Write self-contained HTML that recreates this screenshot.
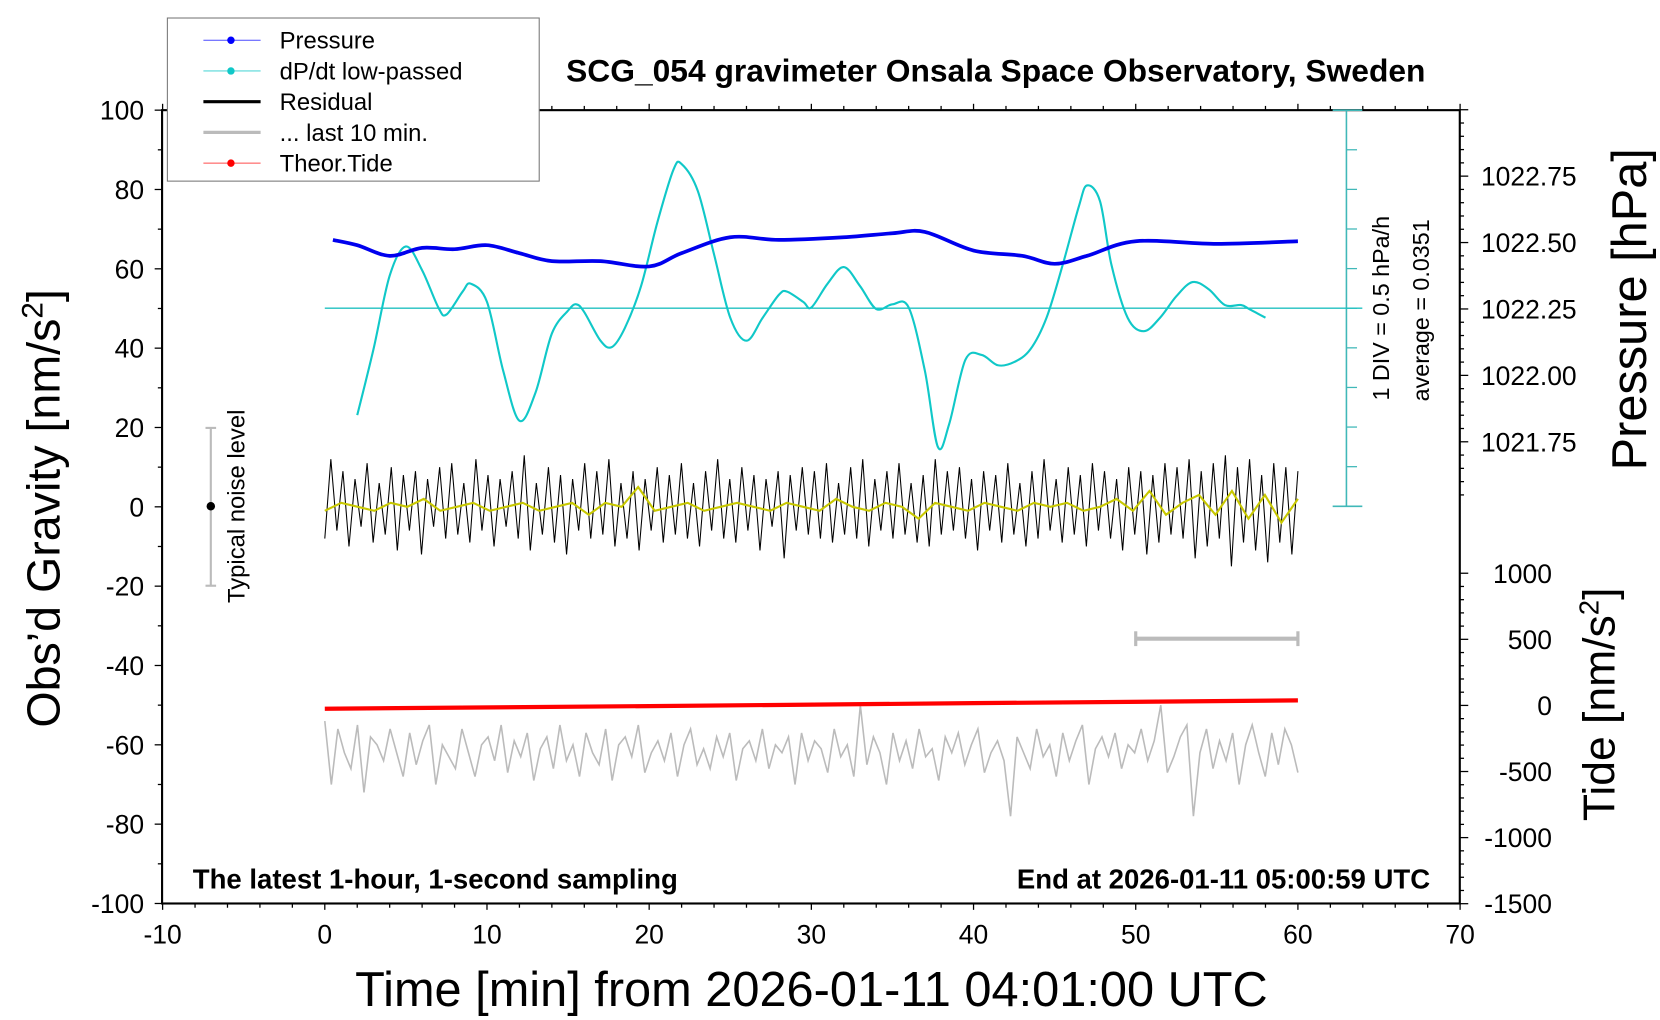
<!DOCTYPE html>
<html><head><meta charset="utf-8"><style>
html,body{margin:0;padding:0;background:#fff}
svg{display:block;font-family:"Liberation Sans",sans-serif}
</style></head><body>
<svg id="chart" width="1660" height="1020" viewBox="0 0 1567 963" preserveAspectRatio="none" xmlns="http://www.w3.org/2000/svg">
<g id="layer"></g>
</svg>
<script>
// ---- data ----
const pressTimes = [0.5,2,4,6,8,10,12,14,17,20,22,25,28,32,35,37,40,43,45,47,50,55,60];
const pressVals = [1022.51,1022.49,1022.45,1022.48,1022.475,1022.49,1022.46,1022.43,1022.43,1022.41,1022.46,1022.52,1022.51,1022.52,1022.535,1022.54,1022.47,1022.45,1022.42,1022.45,1022.505,1022.495,1022.505];
const dpTimes = [2,3,4,5,6,7,7.5,8.5,9,10,11,12,13,14,15,15.5,16,17,17.7,18.5,19.5,20.5,21.5,22,23,24,25,26,27,28,28.5,29.5,30,31,32,33,34,35,36,37,37.8,38.5,39.5,40.5,41.5,42.5,43.5,44.5,45.5,46.5,47,47.8,48.5,49.5,50.5,51.5,52.5,53.5,54.5,55.5,56.5,57,58];
const dpVals = [-1.35,-0.52,0.41,0.78,0.48,0.01,-0.08,0.21,0.31,0.08,-0.79,-1.42,-1.06,-0.32,-0.03,0.05,-0.05,-0.41,-0.49,-0.25,0.28,1.08,1.75,1.82,1.48,0.68,-0.12,-0.41,-0.12,0.17,0.21,0.08,0.01,0.31,0.52,0.28,-0.01,0.05,0.01,-0.79,-1.75,-1.46,-0.65,-0.59,-0.72,-0.68,-0.52,-0.12,0.55,1.29,1.55,1.35,0.55,-0.12,-0.29,-0.12,0.15,0.33,0.24,0.04,0.04,-0.01,-0.12];
const residVals = [-8,12,-6,9,-10,7,-5,11,-9,6,-7,10,-11,8,-6,9,-12,7,-5,10,-8,11,-7,6,-9,12,-6,8,-10,7,-5,9,-8,13,-11,6,-7,10,-9,8,-12,7,-6,11,-8,9,-7,12,-10,6,-8,9,-11,7,-6,10,-9,8,-7,11,-8,6,-10,9,-6,12,-8,7,-9,10,-6,8,-11,7,-5,9,-13,8,-6,10,-7,9,-8,11,-9,6,-7,10,-8,12,-10,7,-6,9,-8,11,-7,6,-9,8,-10,12,-7,9,-6,10,-8,7,-11,9,-6,8,-9,11,-7,6,-10,9,-8,12,-6,7,-9,10,-7,8,-10,11,-6,9,-8,7,-11,10,-7,9,-12,8,-9,11,-7,10,-8,12,-13,9,-10,11,-8,13,-15,10,-9,12,-11,8,-14,11,-9,10,-12,9];
const yellowVals = [-1,1,0,-1,1,0,2,-1,0,1,-1,0,1,-1,0,1,-2,1,0,5,-1,0,1,-1,0,1,0,-1,1,0,-1,2,0,-1,1,0,-3,1,0,-1,1,0,-1,1,0,1,-1,0,2,-1,4,-2,1,3,-2,4,-3,3,-4,2];
const tideTimes = [0,20,40,60];
const tideVals = [-25,-5,17,38];
const greyVals = [-54,-70,-56,-62,-66,-55,-72,-58,-60,-64,-56,-62,-68,-57,-65,-59,-55,-70,-60,-63,-66,-56,-62,-68,-60,-58,-64,-55,-67,-59,-63,-57,-69,-61,-58,-66,-55,-64,-60,-68,-57,-62,-65,-56,-69,-60,-58,-63,-55,-67,-62,-59,-64,-57,-68,-60,-56,-65,-61,-66,-58,-63,-57,-69,-61,-59,-64,-56,-66,-60,-62,-58,-70,-57,-64,-59,-61,-67,-56,-63,-60,-68,-50,-65,-58,-62,-70,-57,-64,-59,-66,-56,-63,-61,-69,-58,-62,-57,-65,-60,-56,-67,-62,-59,-64,-78,-58,-62,-66,-56,-63,-60,-68,-57,-64,-59,-55,-70,-61,-58,-63,-57,-66,-60,-62,-56,-64,-59,-50,-67,-63,-58,-55,-78,-62,-56,-66,-59,-64,-57,-70,-60,-55,-62,-68,-57,-65,-56,-60,-67];
const xTicks = [-10,0,10,20,30,40,50,60,70];
const yTicks = [100,80,60,40,20,0,-20,-40,-60,-80,-100];
const pTicks = ["1022.75","1022.50","1022.25","1022.00","1021.75"];
const tTicks = [1000,500,0,-500,-1000,-1500];

// ---- axes ----
const X = t => 306.6 + t*15.31;
const YL = v => 478.5 - v*3.745;
const YP = p => 229 - (p-1022.5)*250.8;
const YT = v => 666 - v*0.1248;
const YD = d => 291 - d*74.8;
const L = 153, R = 1378, T = 104, B = 853;

const NS = "http://www.w3.org/2000/svg";
const layer = document.getElementById('layer');
function mk(tag, attrs, parent){ const e = document.createElementNS(NS, tag); for (const k in attrs) e.setAttribute(k, attrs[k]); (parent||layer).appendChild(e); return e; }
function txt(s, x, y, attrs){ const e = mk('text', Object.assign({x:x,y:y}, attrs)); e.textContent = s; return e; }
function smooth(pts){ let d = 'M'+pts[0][0]+','+pts[0][1]; for(let i=0;i<pts.length-1;i++){ const p0=pts[Math.max(0,i-1)],p1=pts[i],p2=pts[i+1],p3=pts[Math.min(pts.length-1,i+2)]; d+=' C'+(p1[0]+(p2[0]-p0[0])/6)+','+(p1[1]+(p2[1]-p0[1])/6)+' '+(p2[0]-(p3[0]-p1[0])/6)+','+(p2[1]-(p3[1]-p1[1])/6)+' '+p2[0]+','+p2[1]; } return d; }

// frame
let f = mk('rect',{x:L,y:T,width:R-L,height:B-T,fill:'none',stroke:'#000','stroke-width':2});



// x ticks
for (let t=-10;t<=70;t+=2){ const maj = t%10===0; mk('line',{x1:X(t),x2:X(t),y1:B,y2:B+(maj?6:4),stroke:'#000','stroke-width':1.2}); mk('line',{x1:X(t),x2:X(t),y1:T,y2:T-(maj?6:4),stroke:'#000','stroke-width':1.2}); }
xTicks.forEach(t=>{ const e=txt(String(t),X(t),891,{'font-size':25,'text-anchor':'middle'});
 
  });
// left y ticks
for (let v=-100;v<=100;v+=10){ const maj=v%20===0; mk('line',{x1:L,x2:L-(maj?7:4),y1:YL(v),y2:YL(v),stroke:'#000','stroke-width':1.2}); }
yTicks.forEach(v=>{ const e=txt(String(v),136,YL(v)+9,{'font-size':25,'text-anchor':'end'});
 
  });
// right pressure ticks
for (let i=-30;i<=30;i++){ const p=1022.5+i*0.05; const y=YP(p); if(y<T-1||y>478) continue; const maj=i%5===0; mk('line',{x1:R,x2:R+(maj?8:4),y1:y,y2:y,stroke:'#000','stroke-width':1.2}); }
pTicks.forEach(s=>{ const e=txt(s,1398,YP(parseFloat(s))+9,{'font-size':25});
 
  });
// tide ticks
for (let v=-1500;v<=1000;v+=100){ const maj=v%500===0; mk('line',{x1:R,x2:R+(maj?8:4),y1:YT(v),y2:YT(v),stroke:'#000','stroke-width':1.2}); }
tTicks.forEach(v=>{ const e=txt(String(v),1465,YT(v)+9,{'font-size':25,'text-anchor':'end'});
 
  });

// dP/dt scale
const cy='#40b8b8';
mk('line',{x1:1271,x2:1271,y1:T,y2:478,stroke:cy,'stroke-width':1.5});
for(let k=-5;k<=5;k++){ mk('line',{x1:1271,x2:1281,y1:291+k*37.4,y2:291+k*37.4,stroke:cy,'stroke-width':1.2}); }
mk('line',{x1:1258,x2:1286,y1:478,y2:478,stroke:cy,'stroke-width':1.5});
mk('line',{x1:1258,x2:1286,y1:T,y2:T,stroke:cy,'stroke-width':1.5});
mk('line',{x1:X(0),x2:1286,y1:YD(0),y2:YD(0),stroke:'#20c0c0','stroke-width':1.3});

// grey bottom trace
let gp = greyVals.map((v,i)=>[X(i*60/(greyVals.length-1)),YL(v)]);
let g = mk('polyline',{points:gp.map(p=>p.join(',')).join(' '),fill:'none',stroke:'#bbb','stroke-width':1.5});



// tide
let tp = tideTimes.map((t,i)=>[X(t),YT(tideVals[i])]);
let td = mk('polyline',{points:tp.map(p=>p.join(',')).join(' '),fill:'none',stroke:'#f00','stroke-width':4});



// residual
let rp = residVals.map((v,i)=>[X(i*60/(residVals.length-1)),YL(v)]);
let rs = mk('polyline',{points:rp.map(p=>p.join(',')).join(' '),fill:'none',stroke:'#000','stroke-width':1});


let yp = yellowVals.map((v,i)=>[X(i*60/(yellowVals.length-1)),YL(v)]);
let yl = mk('polyline',{points:yp.map(p=>p.join(',')).join(' '),fill:'none',stroke:'#c8c800','stroke-width':2});



// dP/dt
let dp = dpTimes.map((t,i)=>[X(t),YD(dpVals[i])]);
let dl = mk('path',{d:smooth(dp),fill:'none',stroke:'#10c8c8','stroke-width':2});



// pressure
let pp = pressTimes.map((t,i)=>[X(t),YP(pressVals[i])]);
let pl = mk('path',{d:smooth(pp),fill:'none',stroke:'#0000ee','stroke-width':3.5});



// noise level bar
mk('line',{x1:199,x2:199,y1:404,y2:553,stroke:'#bbb','stroke-width':2});
mk('line',{x1:194,x2:204,y1:404,y2:404,stroke:'#bbb','stroke-width':2});
mk('line',{x1:194,x2:204,y1:553,y2:553,stroke:'#bbb','stroke-width':2});
mk('circle',{cx:199,cy:478,r:4,fill:'#000'});
let nt = txt('Typical noise level',0,0,{'font-size':22.5,'text-anchor':'middle',transform:'translate(231,478) rotate(-90)'});



// last 10 min bar
mk('line',{x1:X(50),x2:X(60),y1:603,y2:603,stroke:'#bbb','stroke-width':4});
mk('line',{x1:X(50),x2:X(50),y1:596,y2:610,stroke:'#bbb','stroke-width':3});
mk('line',{x1:X(60),x2:X(60),y1:596,y2:610,stroke:'#bbb','stroke-width':3});

// texts
let e;
e=txt('SCG_054 gravimeter Onsala Space Observatory, Sweden',940,77,{'font-size':30,'font-weight':'bold','text-anchor':'middle'});


e=txt('The latest 1-hour, 1-second sampling',182,839,{'font-size':26,'font-weight':'bold'});


e=txt('End at 2026-01-11 05:00:59 UTC',1350,839,{'font-size':26,'font-weight':'bold','text-anchor':'end'});


e=txt('1 DIV = 0.5 hPa/h',0,0,{'font-size':22,'text-anchor':'middle',transform:'translate(1311,291) rotate(-90)'});


e=txt('average = 0.0351',0,0,{'font-size':22,'text-anchor':'middle',transform:'translate(1349,293) rotate(-90)'});


e=txt('Time [min] from 2026-01-11 04:01:00 UTC',766,950,{'font-size':46,'text-anchor':'middle'});


e=mk('text',{x:0,y:0,'font-size':44,'text-anchor':'middle',transform:'translate(56,480) rotate(-90)'});
e.innerHTML='Obs\u2019d Gravity [nm/s<tspan dy="-16" font-size="28">2</tspan><tspan dy="16">]</tspan>';


e=txt('Pressure [hPa]',0,0,{'font-size':46,'text-anchor':'middle',transform:'translate(1554,292) rotate(-90)'});


e=mk('text',{x:0,y:0,'font-size':42,'text-anchor':'middle',transform:'translate(1524,665) rotate(-90)'});
e.innerHTML='Tide [nm/s<tspan dy="-15" font-size="26">2</tspan><tspan dy="15">]</tspan>';



// legend
const lg = mk('g',{});


mk('rect',{x:158,y:17,width:351,height:154,fill:'#fff',stroke:'#777','stroke-width':1},lg);
const legNames=['Pressure','dP/dt low-passed','Residual','... last 10 min.','Theor.Tide'];
const legCols=['#00f','#10c8c8','#000','#bbb','#f00'];
legNames.forEach((n,i)=>{
 const y=38+i*29;
 const item=mk('g',{},lg);
 
 
 const dot = (i===0||i===1||i===4);
 mk('line',{x1:192,x2:246,y1:y,y2:y,stroke:legCols[i],'stroke-width':dot?1:3,opacity:dot?0.7:1},item);
 if(dot) mk('circle',{cx:218,cy:y,r:3.5,fill:legCols[i]},item);
 const t=mk('text',{x:264,y:y+8,'font-size':22.5},item); t.textContent=n;
});
</script>
</body></html>
